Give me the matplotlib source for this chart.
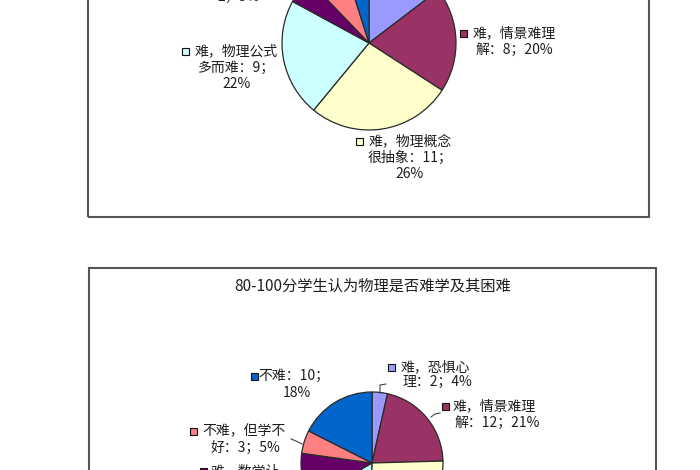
import matplotlib
matplotlib.use("Agg")
import matplotlib.pyplot as plt
from matplotlib.patches import Rectangle

plt.rcParams['font.family'] = ['Noto Sans CJK SC', 'DejaVu Sans']

W, H = 700, 470

# slice order as in the sheet, clockwise from 12 o'clock
categories = ["难，恐惧心理", "难，情景难理解", "难，物理概念很抽象", "难，物理公式多而难",
              "难，数学让人怕", "不难，但学不好", "不难"]
colors = ["#9999FF", "#993366", "#FFFFCC", "#CCFFFF", "#660066", "#FF8080", "#0066CC"]

# top chart (title cut off), counts
top_counts = [6, 8, 11, 9, 2, 3, 2]
# bottom chart: 80-100分
bottom_counts = [2, 12, 15, 9, 6, 3, 10]
bottom_title = "80-100分学生认为物理是否难学及其困难"

# data labels shown in the picture (category; count; percent), wrapped like excel does
top_labels = {
    1: ["难，情景难理", "解：8；20%"],
    2: ["难，物理概念", "很抽象：11；", "26%"],
    3: ["难，物理公式", "多而难：9；", "22%"],
    4: ["2；5%"],
}
bottom_labels = {
    0: ["难，恐惧心", "理：2；4%"],
    1: ["难，情景难理", "解：12；21%"],
    4: ["难，数学让"],
    5: ["不难，但学不", "好：3；5%"],
    6: ["不难：10；", "18%"],
}

TXT = "#1e1e1e"
EDGE = "#2a2a2a"


def Y(y):
    # pixel row from top -> axes y
    return H - y


fig = plt.figure(figsize=(7, 4.7), dpi=100)
ax = fig.add_axes([0, 0, 1, 1])


def draw_label(ax, lines, cx, y0, color, mx=None, step=16.5, show_marker=True):
    for i, s in enumerate(lines):
        cxi = cx[i] if isinstance(cx, (list, tuple)) else cx
        ax.text(cxi, Y(y0 + i * step), s, ha="center", va="center",
                fontsize=10, color=TXT)
    if show_marker and mx is not None:
        ax.add_patch(Rectangle((mx - 3.5, Y(y0) - 3.5), 7, 7, facecolor=color,
                               edgecolor="#111111", linewidth=0.8, zorder=3))


# --- top chart ---
ax.pie(top_counts, colors=colors, startangle=90, counterclock=False,
       center=(369, Y(43)), radius=87,
       wedgeprops=dict(edgecolor=EDGE, linewidth=0.9))

top_pos = {
    1: (514, 33, 463),
    2: (410, 141, 359),
    3: ([236, 237, 237], 51, 185),
    4: (239, -3, None),
}
for k, lines in top_labels.items():
    cx, y0, mx = top_pos[k]
    draw_label(ax, lines, cx, y0, colors[k], mx)

# --- bottom chart ---
ax.pie(bottom_counts, colors=colors, startangle=90, counterclock=False,
       center=(372, Y(463)), radius=71,
       wedgeprops=dict(edgecolor=EDGE, linewidth=0.9))

ax.text(373, Y(286), bottom_title, ha="center", va="center", fontsize=11, color=TXT)

bottom_pos = {
    0: ([435, 437], 367, 391, 15),
    1: ([494, 497], 406, 445, 17),
    4: (245, 471, 203, 16),
    5: ([244, 245], 431, 193, 17),
    6: ([294, 297], 376, 254, 17),
}
for k, lines in bottom_labels.items():
    cx, y0, mx, step = bottom_pos[k]
    draw_label(ax, lines, cx, y0, colors[k], mx, step=step)

# leader lines
leaders = [
    [(386, 384), (380, 385), (380, 393)],
    [(431, 417), (435, 414), (440, 413)],
    [(291, 439), (296, 441), (302, 444)],
]
for pts in leaders:
    ax.plot([p[0] for p in pts], [Y(p[1]) for p in pts], color="#444444", lw=0.8)

# chart frames
ax.add_patch(Rectangle((87.5, Y(216.5)), 561, 240, fill=False,
                       edgecolor="#555555", linewidth=1.5, clip_on=False))
ax.add_patch(Rectangle((88.5, Y(267.5) - 240), 567, 240, fill=False,
                       edgecolor="#555555", linewidth=1.5, clip_on=False))

ax.set_xlim(0, W)
ax.set_ylim(0, H)
ax.set_aspect("equal")
ax.axis("off")

fig.savefig("out.png", dpi=100, facecolor="white")
